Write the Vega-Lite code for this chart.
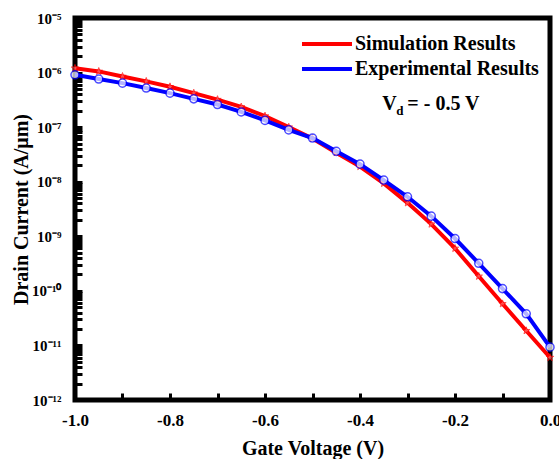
{
  "$schema": "https://vega.github.io/schema/vega-lite/v6.json",
  "autosize": {"type": "none"},
  "padding": {"left": 75, "top": 18, "right": 9, "bottom": 59},
  "width": 475,
  "height": 382,
  "config": {
    "view": {"stroke": "black", "strokeWidth": 5},
    "font": "Liberation Serif",
    "axis": {
      "domain": false,
      "grid": false,
      "labelFont": "Liberation Serif",
      "labelFontWeight": "bold",
      "labelColor": "black",
      "titleFont": "Liberation Serif",
      "titleFontWeight": "bold",
      "titleFontSize": 20,
      "titleColor": "black",
      "tickColor": "black",
      "tickWidth": 3,
      "tickSize": -7,
      "labelOverlap": false,
      "labelFlush": false,
      "labelBound": false
    },
    "legend": {
      "orient": "none",
      "legendX": 240,
      "legendY": 14,
      "symbolType": "M-2.5,0L2.5,0",
      "symbolSize": 400,
      "symbolStrokeWidth": 4,
      "labelFont": "Liberation Serif",
      "labelFontSize": 20,
      "labelFontWeight": "bold",
      "labelColor": "black",
      "labelOffset": 16,
      "rowPadding": 3,
      "padding": 0,
      "labelLimit": 400
    }
  },
  "datasets": {
    "curves": [
      {"v": -1.00, "current": 1.2e-6, "series": "Simulation Results"},
      {"v": -0.95, "current": 1.05e-6, "series": "Simulation Results"},
      {"v": -0.90, "current": 8.5e-7, "series": "Simulation Results"},
      {"v": -0.85, "current": 6.9e-7, "series": "Simulation Results"},
      {"v": -0.80, "current": 5.5e-7, "series": "Simulation Results"},
      {"v": -0.75, "current": 4.2e-7, "series": "Simulation Results"},
      {"v": -0.70, "current": 3.2e-7, "series": "Simulation Results"},
      {"v": -0.65, "current": 2.35e-7, "series": "Simulation Results"},
      {"v": -0.60, "current": 1.6e-7, "series": "Simulation Results"},
      {"v": -0.55, "current": 1.0e-7, "series": "Simulation Results"},
      {"v": -0.50, "current": 6.2e-8, "series": "Simulation Results"},
      {"v": -0.45, "current": 3.4e-8, "series": "Simulation Results"},
      {"v": -0.40, "current": 1.9e-8, "series": "Simulation Results"},
      {"v": -0.35, "current": 9.3e-9, "series": "Simulation Results"},
      {"v": -0.30, "current": 4.1e-9, "series": "Simulation Results"},
      {"v": -0.25, "current": 1.67e-9, "series": "Simulation Results"},
      {"v": -0.20, "current": 6.0e-10, "series": "Simulation Results"},
      {"v": -0.15, "current": 1.85e-10, "series": "Simulation Results"},
      {"v": -0.10, "current": 5.8e-11, "series": "Simulation Results"},
      {"v": -0.05, "current": 1.86e-11, "series": "Simulation Results"},
      {"v": 0.00, "current": 6.0e-12, "series": "Simulation Results"},
      {"v": -1.00, "current": 9.1e-7, "series": "Experimental Results"},
      {"v": -0.95, "current": 7.6e-7, "series": "Experimental Results"},
      {"v": -0.90, "current": 6.4e-7, "series": "Experimental Results"},
      {"v": -0.85, "current": 5.2e-7, "series": "Experimental Results"},
      {"v": -0.80, "current": 4.2e-7, "series": "Experimental Results"},
      {"v": -0.75, "current": 3.3e-7, "series": "Experimental Results"},
      {"v": -0.70, "current": 2.6e-7, "series": "Experimental Results"},
      {"v": -0.65, "current": 1.9e-7, "series": "Experimental Results"},
      {"v": -0.60, "current": 1.33e-7, "series": "Experimental Results"},
      {"v": -0.55, "current": 8.9e-8, "series": "Experimental Results"},
      {"v": -0.50, "current": 6.3e-8, "series": "Experimental Results"},
      {"v": -0.45, "current": 3.6e-8, "series": "Experimental Results"},
      {"v": -0.40, "current": 2.1e-8, "series": "Experimental Results"},
      {"v": -0.35, "current": 1.07e-8, "series": "Experimental Results"},
      {"v": -0.30, "current": 5.3e-9, "series": "Experimental Results"},
      {"v": -0.25, "current": 2.34e-9, "series": "Experimental Results"},
      {"v": -0.20, "current": 9.1e-10, "series": "Experimental Results"},
      {"v": -0.15, "current": 3.2e-10, "series": "Experimental Results"},
      {"v": -0.10, "current": 1.1e-10, "series": "Experimental Results"},
      {"v": -0.05, "current": 3.8e-11, "series": "Experimental Results"},
      {"v": 0.00, "current": 9.3e-12, "series": "Experimental Results"}
    ],
    "note": [{"v": -0.353, "current": 2.6e-7}]
  },
  "layer": [
    {
      "data": {"name": "curves"},
      "transform": [{"filter": "datum.series == 'Simulation Results'"}],
      "mark": {"type": "line", "strokeWidth": 4, "clip": false},
      "encoding": {
        "x": {
          "field": "v", "type": "quantitative",
          "scale": {"domain": [-1, 0], "nice": false, "zero": false},
          "axis": {
            "title": "Gate Voltage (V)",
            "values": [-1, -0.9, -0.8, -0.7, -0.6, -0.5, -0.4, -0.3, -0.2, -0.1, 0],
            "labelExpr": "round(datum.value*10)%2==0 ? replace(format(datum.value,'.1f'),'−','-') : ''",
            "labelFontSize": 17,
            "labelPadding": 19,
            "titlePadding": 10
          }
        },
        "y": {
          "field": "current", "type": "quantitative",
          "scale": {"type": "log", "domain": [1e-12, 1e-5], "nice": false},
          "axis": {
            "title": "Drain Current (A/μm)",
            "values": [1e-12,2e-12,3e-12,4e-12,5e-12,6e-12,7e-12,8e-12,9e-12,1e-11,2e-11,3e-11,4e-11,5e-11,6e-11,7e-11,8e-11,9e-11,1e-10,2e-10,3e-10,4e-10,5e-10,6e-10,7e-10,8e-10,9e-10,1e-9,2e-9,3e-9,4e-9,5e-9,6e-9,7e-9,8e-9,9e-9,1e-8,2e-8,3e-8,4e-8,5e-8,6e-8,7e-8,8e-8,9e-8,1e-7,2e-7,3e-7,4e-7,5e-7,6e-7,7e-7,8e-7,9e-7,1e-6,2e-6,3e-6,4e-6,5e-6,6e-6,7e-6,8e-6,9e-6,1e-5],
            "labelExpr": "abs(log(datum.value)/LN10 - round(log(datum.value)/LN10)) < 0.001 ? '10⁻' + (round(-log(datum.value)/LN10)==5 ? '⁵' : round(-log(datum.value)/LN10)==6 ? '⁶' : round(-log(datum.value)/LN10)==7 ? '⁷' : round(-log(datum.value)/LN10)==8 ? '⁸' : round(-log(datum.value)/LN10)==9 ? '⁹' : round(-log(datum.value)/LN10)==10 ? '¹⁰' : round(-log(datum.value)/LN10)==11 ? '¹¹' : '¹²') : ''",
            "labelFontSize": 15,
            "labelPadding": 21,
            "titlePadding": 0
          }
        },
        "color": {
          "field": "series", "type": "nominal",
          "scale": {"domain": ["Simulation Results", "Experimental Results"], "range": ["#ff0000", "#0000ff"]},
          "legend": {"title": null}
        }
      }
    },
    {
      "data": {"name": "curves"},
      "transform": [{"filter": "datum.series == 'Simulation Results'"}],
      "mark": {"type": "point", "shape": "M0,-1L0.235,-0.324L0.951,-0.309L0.380,0.124L0.588,0.809L0,0.4L-0.588,0.809L-0.380,0.124L-0.951,-0.309L-0.235,-0.324Z", "filled": true, "fill": "#ff7070", "stroke": "#ff0000", "strokeWidth": 1, "size": 60, "clip": false},
      "encoding": {
        "x": {"field": "v", "type": "quantitative"},
        "y": {"field": "current", "type": "quantitative"}
      }
    },
    {
      "data": {"name": "curves"},
      "transform": [{"filter": "datum.series == 'Experimental Results'"}],
      "mark": {"type": "line", "strokeWidth": 4, "clip": false},
      "encoding": {
        "x": {"field": "v", "type": "quantitative"},
        "y": {"field": "current", "type": "quantitative"},
        "color": {"field": "series", "type": "nominal"}
      }
    },
    {
      "data": {"name": "curves"},
      "transform": [{"filter": "datum.series == 'Experimental Results'"}],
      "mark": {"type": "point", "shape": "circle", "filled": true, "fill": "white", "stroke": "#0000ff", "strokeWidth": 1.5, "size": 65, "clip": false},
      "encoding": {
        "x": {"field": "v", "type": "quantitative"},
        "y": {"field": "current", "type": "quantitative"}
      }
    },
    {
      "data": {"name": "note"},
      "mark": {"type": "text", "text": "V", "align": "left", "baseline": "middle", "font": "Liberation Serif", "fontWeight": "bold", "fontSize": 20, "color": "black"},
      "encoding": {
        "x": {"field": "v", "type": "quantitative"},
        "y": {"field": "current", "type": "quantitative"}
      }
    },
    {
      "data": {"name": "note"},
      "mark": {"type": "text", "text": "d", "align": "left", "baseline": "middle", "dx": 14, "dy": 7, "font": "Liberation Serif", "fontWeight": "bold", "fontSize": 13, "color": "black"},
      "encoding": {
        "x": {"field": "v", "type": "quantitative"},
        "y": {"field": "current", "type": "quantitative"}
      }
    },
    {
      "data": {"name": "note"},
      "mark": {"type": "text", "text": "= - 0.5 V", "align": "left", "baseline": "middle", "dx": 25, "font": "Liberation Serif", "fontWeight": "bold", "fontSize": 20, "color": "black"},
      "encoding": {
        "x": {"field": "v", "type": "quantitative"},
        "y": {"field": "current", "type": "quantitative"}
      }
    }
  ]
}
